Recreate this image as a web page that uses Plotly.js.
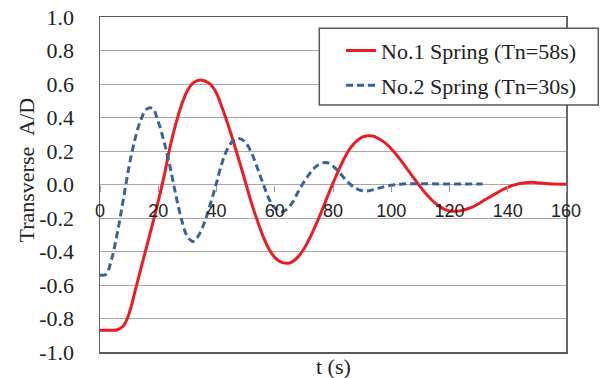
<!DOCTYPE html>
<html>
<head>
<meta charset="utf-8">
<script src="https://cdn.plot.ly/plotly-3.0.1.min.js"></script>
<style>html,body{margin:0;padding:0;background:#fff;}#chart{width:600px;height:378px;}</style>
</head>
<body>
<div id="chart"></div>
<script>
// No.1 Spring (Tn=58s)
const t1 = [0, 2, 4, 6, 8, 10, 12, 14, 16, 18, 20, 22, 24, 26, 28, 30, 32, 34, 36, 38, 40, 42, 44, 46, 48, 50, 52, 54, 56, 58, 60, 62, 64, 66, 68, 70, 72, 74, 76, 78, 80, 82, 84, 86, 88, 90, 92, 94, 96, 98, 100, 102, 104, 106, 108, 110, 112, 114, 116, 118, 120, 122, 124, 126, 128, 130, 132, 134, 136, 138, 140, 142, 144, 146, 148, 150, 152, 154, 156, 158, 160];
const v1 = [-0.87, -0.87, -0.87, -0.867, -0.845, -0.77, -0.64, -0.505, -0.372, -0.238, -0.1, 0.05, 0.22, 0.36, 0.475, 0.56, 0.607, 0.623, 0.618, 0.597, 0.545, 0.455, 0.355, 0.245, 0.13, 0.01, -0.11, -0.215, -0.31, -0.385, -0.435, -0.462, -0.47, -0.462, -0.432, -0.385, -0.32, -0.245, -0.163, -0.077, 0.008, 0.088, 0.16, 0.218, 0.258, 0.283, 0.291, 0.288, 0.27, 0.247, 0.214, 0.173, 0.128, 0.08, 0.032, -0.014, -0.057, -0.094, -0.124, -0.146, -0.158, -0.16, -0.156, -0.146, -0.133, -0.115, -0.093, -0.073, -0.053, -0.033, -0.017, -0.004, 0.006, 0.011, 0.013, 0.011, 0.008, 0.005, 0.003, 0.002, 0.002];
// No.2 Spring (Tn=30s)
const t2 = [0, 2, 4, 6, 8, 10, 12, 14, 16, 18, 20, 22, 24, 26, 28, 30, 32, 34, 36, 38, 40, 42, 44, 46, 48, 50, 52, 54, 56, 58, 60, 62, 64, 66, 68, 70, 72, 74, 76, 78, 80, 82, 84, 86, 88, 90, 92, 94, 96, 98, 100, 102, 104, 106, 108, 110, 114, 118, 122, 126, 130, 132.5];
const v2 = [-0.54, -0.537, -0.445, -0.285, -0.09, 0.11, 0.27, 0.385, 0.45, 0.455, 0.375, 0.255, 0.11, -0.06, -0.21, -0.31, -0.34, -0.3, -0.22, -0.11, 0.01, 0.135, 0.22, 0.266, 0.274, 0.25, 0.19, 0.1, 0.005, -0.085, -0.14, -0.164, -0.15, -0.11, -0.045, 0.015, 0.065, 0.105, 0.127, 0.13, 0.11, 0.075, 0.035, 0.0, -0.025, -0.037, -0.038, -0.03, -0.02, -0.011, -0.005, 0.0, 0.003, 0.005, 0.005, 0.005, 0.004, 0.003, 0.003, 0.003, 0.003, 0.003];

const seriesNames = ['No.1 Spring (Tn=58s)', 'No.2 Spring (Tn=30s)'];
const xTickVals = [0, 20, 40, 60, 80, 100, 120, 140, 160];
const xTickText = ['0', '20', '40', '60', '80', '100', '120', '140', '160'];
const yTickVals = [1.0, 0.8, 0.6, 0.4, 0.2, 0.0, -0.2, -0.4, -0.6, -0.8, -1.0];
const yTickText = ['1.0', '0.8', '0.6', '0.4', '0.2', '0.0', '-0.2', '-0.4', '-0.6', '-0.8', '-1.0'];

const SERIF = "'Liberation Serif', 'Times New Roman', serif";
const SANS = "'Liberation Sans', Arial, sans-serif";

const traces = [
  {x: t1, y: v1, name: seriesNames[0], type: 'scatter', mode: 'lines', legendgroup: 'a',
   xaxis: 'x', yaxis: 'y',
   line: {color: '#ED1C24', width: 3, shape: 'spline', smoothing: 1}},
  {x: t2, y: v2, name: seriesNames[1], type: 'scatter', mode: 'lines', legendgroup: 'b',
   xaxis: 'x2', yaxis: 'y',
   line: {color: '#3B6496', width: 3, dash: '7px,4px', shape: 'spline', smoothing: 1}}
];

const layout = {
  width: 600, height: 378,
  margin: {l: 100, r: 34, t: 17, b: 26},
  paper_bgcolor: '#fff', plot_bgcolor: '#fff',
  showlegend: true,
  xaxis: {range: [0, 160], showline: true, mirror: true, linecolor: '#595959', linewidth: 1.5,
          showgrid: false, zeroline: false, showticklabels: false, ticks: ''},
  xaxis2: {overlaying: 'x', anchor: 'free', position: 0.5, range: [0, 160], side: 'bottom',
           tickmode: 'array', tickvals: xTickVals, ticktext: xTickText,
           ticks: 'outside', ticklen: 6, tickwidth: 1, tickcolor: '#9a9a9a',
           ticklabelstandoff: 4,
           showline: false, showgrid: false, zeroline: false,
           tickfont: {family: SANS, size: 18, color: '#222'}},
  yaxis: {range: [-1, 1], tickmode: 'array', tickvals: yTickVals, ticktext: yTickText,
          showline: true, mirror: true, linecolor: '#666', linewidth: 1.5,
          showgrid: true, gridcolor: '#a8a8a8', gridwidth: 1, zeroline: false, ticks: '',
          ticklabelstandoff: 20,
          tickfont: {family: SERIF, size: 22, color: '#222'}},
  legend: {x: 0.5172, y: 0.962, xanchor: 'left', yanchor: 'top', bgcolor: 'rgba(0,0,0,0)',
           borderwidth: 0, traceorder: 'grouped', tracegroupgap: 3,
           font: {family: SERIF, size: 22, color: '#222'}},
  shapes: [
    {type: 'rect', xref: 'paper', yref: 'paper', x0: 0.4706, x1: 1.0693, y0: 0.7373, y1: 0.9663,
     line: {color: '#595959', width: 1.5}, fillcolor: '#fff', layer: 'above'}
  ],
  annotations: [
    {text: 'Transverse\u00a0\u00a0A/D', xref: 'paper', yref: 'paper', x: -0.1588, y: 0.5448,
     xanchor: 'center', yanchor: 'middle', textangle: -90, showarrow: false,
     font: {family: SERIF, size: 22, color: '#222'}},
    {text: 't (s)', xref: 'paper', yref: 'paper', x: 0.5, y: -0.042,
     xanchor: 'center', yanchor: 'middle', showarrow: false,
     font: {family: SERIF, size: 22, color: '#222'}}
  ]
};

Plotly.newPlot('chart', traces, layout, {displayModeBar: false, staticPlot: true});
</script>
</body>
</html>
